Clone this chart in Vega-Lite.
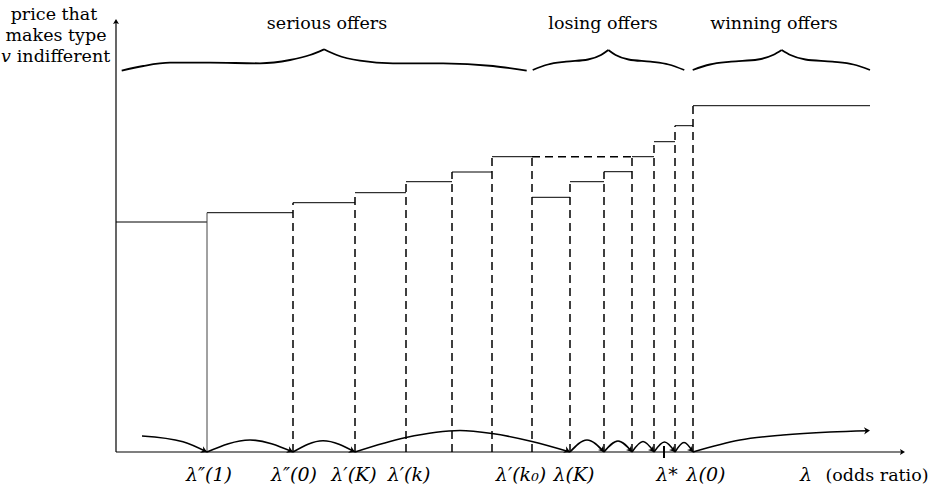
{
  "$schema": "https://vega.github.io/schema/vega-lite/v6.json",
  "width": 941,
  "height": 490,
  "autosize": {"type": "fit", "contains": "padding"},
  "padding": 0,
  "background": "white",
  "config": {"view": {"stroke": null}},
  "datasets": {
    "steps": [
      {"x": 0, "x2": 91, "y": 230}, {"x": 91, "x2": 177, "y": 239.3}, {"x": 177, "x2": 239, "y": 249.3},
      {"x": 239, "x2": 290, "y": 259.3}, {"x": 290, "x2": 336, "y": 270.3}, {"x": 336, "x2": 376, "y": 280},
      {"x": 376, "x2": 416, "y": 295.3}, {"x": 416, "x2": 454, "y": 254.7}, {"x": 454, "x2": 488, "y": 270.3},
      {"x": 488, "x2": 516, "y": 280.3}, {"x": 516, "x2": 538, "y": 295.3}, {"x": 538, "x2": 559, "y": 310.3},
      {"x": 559, "x2": 577, "y": 326.3}, {"x": 577, "x2": 754, "y": 346.3}
    ],
    "stepsDashed": [{"x": 416, "x2": 516, "y": 295.3}],
    "vSolid": [{"x": 91, "y": 0, "y2": 239.3}],
    "vDashed": [
      {"x": 177, "y": 0, "y2": 249.3}, {"x": 239, "y": 0, "y2": 259.3}, {"x": 290, "y": 0, "y2": 270.3},
      {"x": 336, "y": 0, "y2": 280}, {"x": 376, "y": 0, "y2": 295.3}, {"x": 416, "y": 0, "y2": 295.3},
      {"x": 454, "y": 0, "y2": 270.3}, {"x": 488, "y": 0, "y2": 280.3}, {"x": 516, "y": 0, "y2": 295.3},
      {"x": 538, "y": 0, "y2": 310.3}, {"x": 559, "y": 0, "y2": 326.3}, {"x": 577, "y": 0, "y2": 346.3}
    ],
    "arcs": [
      {"arc": 0, "x": 26, "y": 16}, {"arc": 0, "x": 67, "y": 10.3}, {"arc": 0, "x": 91, "y": 0},
      {"arc": 1, "x": 91, "y": 0}, {"arc": 1, "x": 134, "y": 12}, {"arc": 1, "x": 177, "y": 0},
      {"arc": 2, "x": 177, "y": 0}, {"arc": 2, "x": 207, "y": 11.3}, {"arc": 2, "x": 239, "y": 0},
      {"arc": 3, "x": 239, "y": 0}, {"arc": 3, "x": 290, "y": 14.5}, {"arc": 3, "x": 344, "y": 21.5},
      {"arc": 3, "x": 376, "y": 18.5}, {"arc": 3, "x": 416, "y": 10.5}, {"arc": 3, "x": 454, "y": 0},
      {"arc": 4, "x": 454, "y": 0}, {"arc": 4, "x": 471, "y": 12}, {"arc": 4, "x": 488, "y": 0},
      {"arc": 5, "x": 488, "y": 0}, {"arc": 5, "x": 502, "y": 11}, {"arc": 5, "x": 516, "y": 0},
      {"arc": 6, "x": 516, "y": 0}, {"arc": 6, "x": 527, "y": 10.5}, {"arc": 6, "x": 538, "y": 0},
      {"arc": 7, "x": 538, "y": 0}, {"arc": 7, "x": 548.5, "y": 10}, {"arc": 7, "x": 559, "y": 0},
      {"arc": 8, "x": 559, "y": 0}, {"arc": 8, "x": 568, "y": 9.5}, {"arc": 8, "x": 577, "y": 0},
      {"arc": 9, "x": 577, "y": 0}, {"arc": 9, "x": 624, "y": 12}, {"arc": 9, "x": 667, "y": 17},
      {"arc": 9, "x": 714, "y": 20}, {"arc": 9, "x": 752, "y": 21.3}
    ],
    "headsWide": [{"x": 91, "y": 0}, {"x": 177, "y": 0}, {"x": 239, "y": 0}, {"x": 454, "y": 0}],
    "headsNarrow": [{"x": 488, "y": 0}, {"x": 516, "y": 0}, {"x": 538, "y": 0}, {"x": 559, "y": 0}, {"x": 577, "y": 0}],
    "headLast": [{"x": 754, "y": 21.4}],
    "braces": [
      {"part": "s1", "x": 5.7, "y": 381.3}, {"part": "s1", "x": 27.3, "y": 386}, {"part": "s1", "x": 54, "y": 389.3},
      {"part": "s1", "x": 94, "y": 389.3}, {"part": "s1", "x": 144, "y": 388.7}, {"part": "s1", "x": 174, "y": 392},
      {"part": "s1", "x": 194, "y": 397}, {"part": "s1", "x": 208, "y": 402.7},
      {"part": "s2", "x": 208, "y": 402.7}, {"part": "s2", "x": 220.7, "y": 397}, {"part": "s2", "x": 244, "y": 391.3},
      {"part": "s2", "x": 277, "y": 388.7}, {"part": "s2", "x": 327, "y": 388.7}, {"part": "s2", "x": 377, "y": 386},
      {"part": "s2", "x": 410.7, "y": 381.3},
      {"part": "l1", "x": 416.7, "y": 382}, {"part": "l1", "x": 432, "y": 387.5}, {"part": "l1", "x": 450, "y": 390.3},
      {"part": "l1", "x": 472, "y": 392.5}, {"part": "l1", "x": 485, "y": 397}, {"part": "l1", "x": 492.3, "y": 402},
      {"part": "l2", "x": 492.3, "y": 402}, {"part": "l2", "x": 499.6, "y": 397}, {"part": "l2", "x": 512.6, "y": 392.5},
      {"part": "l2", "x": 534.6, "y": 390.3}, {"part": "l2", "x": 552.6, "y": 387.5}, {"part": "l2", "x": 568.3, "y": 382},
      {"part": "w1", "x": 576.7, "y": 382}, {"part": "w1", "x": 594, "y": 387.5}, {"part": "w1", "x": 615, "y": 390.3},
      {"part": "w1", "x": 642, "y": 392.5}, {"part": "w1", "x": 657, "y": 397}, {"part": "w1", "x": 665.7, "y": 402},
      {"part": "w2", "x": 665.7, "y": 402}, {"part": "w2", "x": 674.4, "y": 397}, {"part": "w2", "x": 689.4, "y": 392.5},
      {"part": "w2", "x": 716.4, "y": 390.3}, {"part": "w2", "x": 737.4, "y": 387.5}, {"part": "w2", "x": 754, "y": 382}
    ],
    "topLabels": [
      {"x": 211, "y": 423, "t": "serious offers"},
      {"x": 487, "y": 423, "t": "losing offers"},
      {"x": 658, "y": 423, "t": "winning offers"},
      {"x": -62, "y": 432.5, "t": "price that"},
      {"x": -60, "y": 411.5, "t": "makes type"},
      {"x": -52.5, "y": 390.5, "t": "indifferent"},
      {"x": 761, "y": -29, "t": "(odds ratio)"}
    ],
    "italicLabels": [
      {"x": 93, "y": -29, "t": "λ″(1)"},
      {"x": 178, "y": -29, "t": "λ″(0)"},
      {"x": 238, "y": -29, "t": "λ′(K)"},
      {"x": 293, "y": -29, "t": "λ′(k)"},
      {"x": 405, "y": -29, "t": "λ′(k₀)"},
      {"x": 458, "y": -29, "t": "λ(K)"},
      {"x": 551, "y": -29, "t": "λ*"},
      {"x": 590, "y": -29, "t": "λ(0)"},
      {"x": 690, "y": -29, "t": "λ"}
    ],
    "yTitleItalic": [{"x": -110, "y": 390.5, "t": "v"}]
  },
  "encoding": {
    "x": {"field": "x", "type": "quantitative", "scale": {"domain": [-116, 825], "nice": false, "zero": false}, "axis": null},
    "y": {"field": "y", "type": "quantitative", "scale": {"domain": [-38, 452], "nice": false, "zero": false}, "axis": null}
  },
  "layer": [
    {
      "data": {"values": [{"x": 0, "y": 0, "y2": 430}]},
      "mark": {"type": "rule", "color": "black", "strokeWidth": 1.2},
      "encoding": {"y2": {"field": "y2"}}
    },
    {
      "data": {"values": [{"x": 0, "x2": 786, "y": 0}]},
      "mark": {"type": "rule", "color": "black", "strokeWidth": 1.2},
      "encoding": {"x2": {"field": "x2"}}
    },
    {
      "data": {"values": [{"x": 0, "y": 433}]},
      "mark": {"type": "point", "shape": "M 0 0 L -1 -0.6 L -0.8 0 L -1 0.6 Z", "angle": -90, "size": 100, "filled": true, "color": "black", "opacity": 1, "strokeWidth": 0}
    },
    {
      "data": {"values": [{"x": 789, "y": 0}]},
      "mark": {"type": "point", "shape": "M 0 0 L -1 -0.6 L -0.8 0 L -1 0.6 Z", "angle": 0, "size": 100, "filled": true, "color": "black", "opacity": 1, "strokeWidth": 0}
    },
    {
      "data": {"name": "steps"},
      "mark": {"type": "rule", "color": "black", "strokeWidth": 1},
      "encoding": {"x2": {"field": "x2"}}
    },
    {
      "data": {"name": "stepsDashed"},
      "mark": {"type": "rule", "color": "black", "strokeWidth": 1.5, "strokeDash": [8, 5]},
      "encoding": {"x2": {"field": "x2"}}
    },
    {
      "data": {"name": "vSolid"},
      "mark": {"type": "rule", "color": "#444", "strokeWidth": 1},
      "encoding": {"y2": {"field": "y2"}}
    },
    {
      "data": {"name": "vDashed"},
      "mark": {"type": "rule", "color": "black", "strokeWidth": 1.5, "strokeDash": [8, 5]},
      "encoding": {"y2": {"field": "y2"}}
    },
    {
      "data": {"values": [{"x": 548, "y": -6, "y2": 6}]},
      "mark": {"type": "rule", "color": "black", "strokeWidth": 2},
      "encoding": {"y2": {"field": "y2"}}
    },
    {
      "data": {"name": "arcs"},
      "mark": {"type": "line", "color": "black", "strokeWidth": 1.6, "interpolate": "monotone"},
      "encoding": {"detail": {"field": "arc", "type": "nominal"}}
    },
    {
      "data": {"name": "headsWide"},
      "mark": {"type": "point", "shape": "M 0 0 L -1 -0.6 L -0.7 0 L -1 0.6 Z", "angle": 25, "size": 144, "filled": true, "color": "black", "opacity": 1, "strokeWidth": 0}
    },
    {
      "data": {"name": "headsNarrow"},
      "mark": {"type": "point", "shape": "M 0 0 L -1 -0.6 L -0.7 0 L -1 0.6 Z", "angle": 50, "size": 120, "filled": true, "color": "black", "opacity": 1, "strokeWidth": 0}
    },
    {
      "data": {"name": "headLast"},
      "mark": {"type": "point", "shape": "M 0 0 L -1 -0.6 L -0.7 0 L -1 0.6 Z", "angle": -2, "size": 144, "filled": true, "color": "black", "opacity": 1, "strokeWidth": 0}
    },
    {
      "data": {"name": "braces"},
      "mark": {"type": "line", "color": "black", "strokeWidth": 1.8, "interpolate": "monotone"},
      "encoding": {"detail": {"field": "part", "type": "nominal"}}
    },
    {
      "data": {"name": "topLabels"},
      "mark": {"type": "text", "font": "DejaVu Serif", "fontSize": 17.5, "color": "black", "align": "center", "baseline": "alphabetic"},
      "encoding": {"text": {"field": "t"}}
    },
    {
      "data": {"name": "yTitleItalic"},
      "mark": {"type": "text", "font": "DejaVu Serif", "fontSize": 17.5, "fontStyle": "italic", "color": "black", "align": "center", "baseline": "alphabetic"},
      "encoding": {"text": {"field": "t"}}
    },
    {
      "data": {"name": "italicLabels"},
      "mark": {"type": "text", "font": "DejaVu Serif", "fontSize": 19, "fontStyle": "italic", "color": "black", "align": "center", "baseline": "alphabetic"},
      "encoding": {"text": {"field": "t"}}
    }
  ]
}
